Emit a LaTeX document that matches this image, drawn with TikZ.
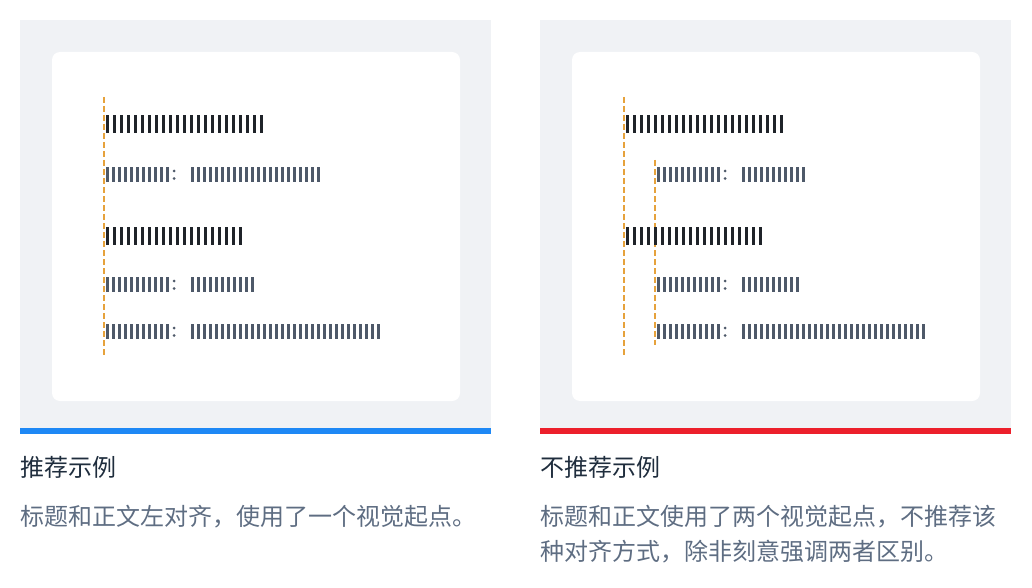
\documentclass[tikz,border=0pt]{standalone}
\usepackage{fontspec}
\newfontfamily\cjk{Noto Sans CJK SC}
\usepackage{tikz}
\usetikzlibrary{positioning, calc}
\usepackage{xcolor}
\definecolor{panelbg}{HTML}{F0F2F5}
\definecolor{goodcol}{HTML}{1E88F5}
\definecolor{badcol}{HTML}{EC1F2B}
\definecolor{guidecol}{HTML}{E6A23C}
\definecolor{inkdark}{HTML}{1F2329}
\definecolor{inkgray}{HTML}{4E5969}
\definecolor{headcol}{HTML}{1F2D3D}
\definecolor{notecol}{HTML}{5E6D82}
\tikzset{
  % grey backdrop of one example
  panel/.style={fill=panelbg},
  % white page lying on the backdrop
  page/.style={fill=white, rounded corners=8pt},
  % coloured strip under the backdrop
  strip/.style={fill=#1},
  % dashed alignment guide
  guide/.style={draw=guidecol, dash pattern=on 6pt off 3pt, line width=1.5pt},
  % caption title and caption text
  caphead/.style={font={\cjk\fontsize{24}{35}\selectfont}, text=headcol,
                  inner sep=0pt, anchor=base west},
  capnote/.style={font={\cjk\fontsize{24}{35}\selectfont}, text=notecol,
                  inner sep=0pt, anchor=base west, align=left},
}
% heading placeholder: x, top y, number of strokes
\newcommand{\titlebars}[3]{%
  \foreach \k in {1,...,#3}
    \fill[inkdark] ({#1+(\k-1)*7},#2) rectangle ++(3,18);%
}
% body placeholder: x, top y, number of strokes
\newcommand{\bodybars}[3]{%
  \foreach \k in {1,...,#3}
    \fill[inkgray] ({#1+(\k-1)*6},#2) rectangle ++(2.8,15);%
}
% label : value line
\newcommand{\bodyrow}[4]{%
  \bodybars{#1}{#2}{#3}
  \fill[inkgray] ({#1+68},{#2+4}) circle (1.5pt)
                 ({#1+68},{#2+11.5}) circle (1.5pt);
  \bodybars{#1+85}{#2}{#4}
}
% backdrop, page and strip of one example
\newcommand{\examplecard}[2]{%
  \fill[panel] (#1,20) rectangle ++(471,408);
  \fill[page] (#1+32,52) rectangle ++(408,349);
  \fill[strip=#2] (#1,428) rectangle ++(471,6);
}

\begin{document}
\begin{tikzpicture}[x=1pt, y=-1pt]
  \useasboundingbox (0,0) rectangle (1032,588);
  \examplecard{20}{goodcol}
  \examplecard{540}{badcol}

  % recommended: one starting line
  \coordinate (gtop) at (104,97);
  \coordinate (gbot) at (104,355);
  \draw[guide] (gtop) -- (gbot);
  \titlebars{106}{115}{23}
  \bodyrow{106}{167}{11}{22}
  \titlebars{106}{227}{20}
  \bodyrow{106}{277}{11}{11}
  \bodyrow{106}{324}{11}{32}

  % not recommended: two starting lines
  \coordinate (btop) at (624,97);
  \coordinate (bbot) at (624,355);
  \coordinate (itop) at (655,160);
  \coordinate (ibot) at (655,345);
  \draw[guide] (btop) -- (bbot);
  \draw[guide] (itop) -- (ibot);
  \titlebars{626}{115}{23}
  \bodyrow{657}{167}{11}{11}
  \titlebars{626}{227}{20}
  \bodyrow{657}{277}{11}{10}
  \bodyrow{657}{324}{11}{31}

  % captions
  \node[caphead] (goodhead) at (20,476) {推荐示例};
  \node[capnote] (goodnote) at (20,525)
    {标题和正文左对齐，使用了一个视觉起点。};
  \node[caphead] (badhead) at (540,476) {不推荐示例};
  \node[capnote] (badnote) at (540,560)
    {标题和正文使用了两个视觉起点，不推荐该\\种对齐方式，除非刻意强调两者区别。};
\end{tikzpicture}
\end{document}
